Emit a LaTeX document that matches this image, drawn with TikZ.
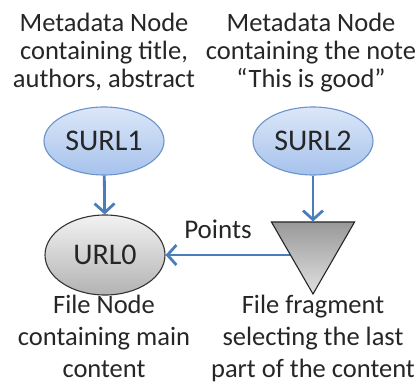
\documentclass[tikz,border=0pt]{standalone}
\usepackage{fontspec}
\setmainfont{Carlito}
\usetikzlibrary{arrows.meta,shapes.geometric,backgrounds}
\definecolor{linkblue}{HTML}{4A7EBB}
\definecolor{metaedge}{HTML}{6A93CC}
\definecolor{metatop}{HTML}{DCE7F8}
\definecolor{metabot}{HTML}{A6C2EC}
\definecolor{inkgray}{HTML}{262626}
\tikzset{
  metanode/.style={ellipse, draw=metaedge, line width=1.1pt,
    top color=metatop, bottom color=metabot,
    minimum width=120pt, minimum height=68pt, inner sep=0pt,
    text=inkgray, font=\fontsize{30}{32}\selectfont},
  filenode/.style={ellipse, draw=black!80, line width=1.1pt,
    top color=black!5, bottom color=black!30,
    minimum width=120pt, minimum height=80pt, inner sep=0pt,
    text=inkgray, font=\fontsize{30}{32}\selectfont},
  fragment/.style={regular polygon, regular polygon sides=3,
    shape border rotate=180, draw=black!85, line width=1.1pt,
    top color=black!40, bottom color=black!12,
    minimum size=96pt, inner sep=0pt},
  link/.style={draw=linkblue, line width=2.8pt,
    -{Straight Barb[length=9pt,width=20pt,line width=2.8pt]}},
  toptext/.style={align=center, text=inkgray, anchor=base,
    font=\fontsize{26.5}{28}\selectfont},
  bottext/.style={align=center, text=inkgray, anchor=base,
    font=\fontsize{26.5}{32}\selectfont},
  linklabel/.style={text=inkgray, anchor=base, inner sep=0pt,
    font=\fontsize{27}{28}\selectfont},
}
\begin{document}
\begin{tikzpicture}[x=1pt,y=-1pt]
\useasboundingbox (0,0) rectangle (418,385);

% descriptions of the two metadata nodes (anchored at the last baseline)
\node[toptext] (d1) at (104,88) {Metadata Node\\containing title,\\authors, abstract};
\node[toptext] (d2) at (311,88) {Metadata Node\\containing the note\\“This is good”};

% the nodes
\node[metanode] (s1) at (104,141) {SURL1};
\node[metanode] (s2) at (313,141) {SURL2};
\node[filenode] (u0) at (105,255) {URL0};
\coordinate (tc) at (313,246);
\node[fragment] (tri) at (tc) {};

% connectors
\draw[link] (s1) -- (u0);
\draw[link] (s2) -- (tri);
\begin{scope}[on background layer]
  \draw[link] (tc |- u0.east) -- (u0.east);
\end{scope}
\node[linklabel] (pl) at (218,238) {Points};

% descriptions of the file node and the fragment (anchored at the last baseline)
\node[bottext] (d3) at (104,377) {File Node\\containing main\\content};
\node[bottext] (d4) at (313,377) {File fragment\\selecting the last\\part of the content};
\end{tikzpicture}
\end{document}
